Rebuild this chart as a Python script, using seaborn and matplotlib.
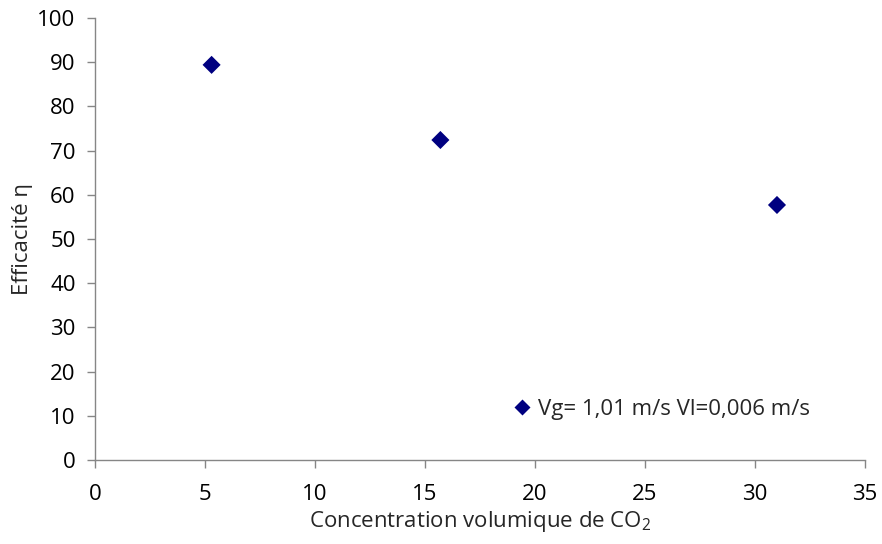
import matplotlib
matplotlib.use("Agg")
import matplotlib.pyplot as plt
import pandas as pd
import seaborn as sns

# valeurs
concentration = [5.3, 15.7, 31.0]
efficacite = [89.4, 72.4, 57.7]
serie = ["Vg= 1,01 m/s Vl=0,006 m/s"] * 3

df = pd.DataFrame({"conc": concentration, "eta": efficacite, "serie": serie})

sns.set_theme(style="white")
plt.rcParams["font.family"] = ["Open Sans", "DejaVu Sans"]
plt.rcParams["mathtext.fontset"] = "custom"
plt.rcParams["mathtext.rm"] = "Open Sans"

GRIS = "#868686"

fig = plt.figure(figsize=(8.82, 5.44), dpi=100)
ax = fig.add_axes([0.1077, 0.1544, 0.873, 0.8125])

sns.scatterplot(data=df, x="conc", y="eta", hue="serie", palette=["#000080"],
                marker="D", s=85, edgecolor="none", ax=ax)

ax.set_xlim(0, 35)
ax.set_ylim(0, 100)
ax.set_xticks(range(0, 36, 5))
ax.set_yticks(range(0, 101, 10))
for s in ["top", "right"]:
    ax.spines[s].set_visible(False)
for s in ["left", "bottom"]:
    ax.spines[s].set_color(GRIS)
    ax.spines[s].set_linewidth(1)
ax.tick_params(axis="both", which="major", direction="out", length=6,
               width=1, color=GRIS, labelsize=16, labelcolor="black")
ax.tick_params(axis="x", pad=11, bottom=True)
ax.tick_params(axis="y", pad=8, left=True)

ax.set_xlabel(r"Concentration volumique de CO$_{\mathregular{2}}$",
              fontsize=16, labelpad=3)
ax.set_ylabel("Efficacité η", fontsize=16, labelpad=3)

leg = ax.legend(loc="lower left", bbox_to_anchor=(0.53, 0.07), frameon=False,
                fontsize=16, handlelength=0.9, handletextpad=0.25,
                markerscale=0.85, borderaxespad=0)

fig.savefig("out.png", dpi=100)
